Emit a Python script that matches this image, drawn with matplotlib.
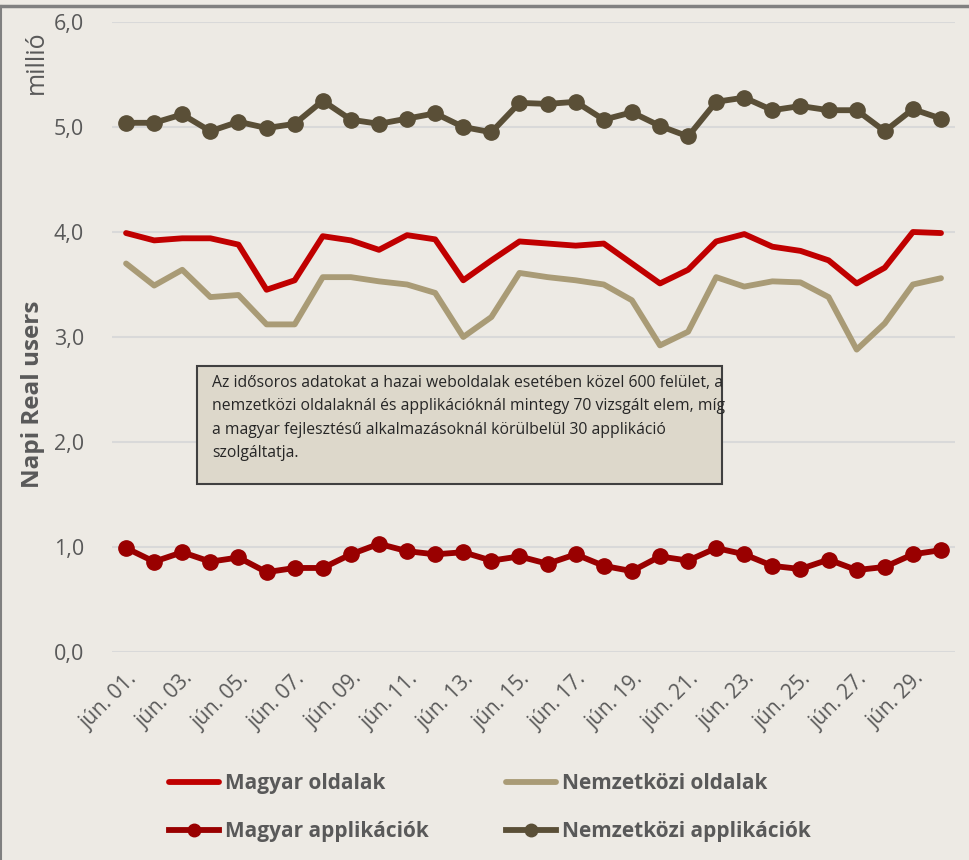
import matplotlib.pyplot as plt
from matplotlib.lines import Line2D
from matplotlib.patches import FancyBboxPatch

# jún. 01 - jún. 30, napi Real users (millió)
days = ["jún. %02d." % d for d in range(1, 31)]

magyar_oldalak = [3.99, 3.92, 3.94, 3.94, 3.88, 3.45, 3.54, 3.96, 3.92, 3.83,
                  3.97, 3.93, 3.54, 3.73, 3.91, 3.89, 3.87, 3.89, 3.70, 3.51,
                  3.64, 3.91, 3.98, 3.86, 3.82, 3.73, 3.51, 3.66, 4.00, 3.99]
nemzetkozi_oldalak = [3.70, 3.49, 3.64, 3.38, 3.40, 3.12, 3.12, 3.57, 3.57, 3.53,
                      3.50, 3.42, 3.00, 3.19, 3.61, 3.57, 3.54, 3.50, 3.35, 2.92,
                      3.05, 3.57, 3.48, 3.53, 3.52, 3.38, 2.88, 3.13, 3.50, 3.56]
magyar_app = [0.99, 0.86, 0.95, 0.86, 0.90, 0.76, 0.80, 0.80, 0.93, 1.03,
              0.96, 0.93, 0.95, 0.87, 0.91, 0.84, 0.93, 0.82, 0.77, 0.91,
              0.87, 0.99, 0.93, 0.82, 0.79, 0.88, 0.78, 0.81, 0.93, 0.97]
nemzetkozi_app = [5.04, 5.04, 5.12, 4.96, 5.05, 4.99, 5.03, 5.25, 5.07, 5.03,
                  5.08, 5.13, 5.00, 4.95, 5.23, 5.22, 5.24, 5.07, 5.14, 5.01,
                  4.91, 5.24, 5.28, 5.16, 5.20, 5.16, 5.16, 4.96, 5.17, 5.08]
y_ticks = [0, 1, 2, 3, 4, 5, 6]

note = ("Az idősoros adatokat a hazai weboldalak esetében közel 600 felület, a\n"
        "nemzetközi oldalaknál és applikációknál mintegy 70 vizsgált elem, míg\n"
        "a magyar fejlesztésű alkalmazásoknál körülbelül 30 applikáció\n"
        "szolgáltatja.")

bg = "#EDEAE4"
txt = "#595959"
plt.rcParams["font.family"] = ["Open Sans", "DejaVu Sans"]

fig = plt.figure(figsize=(9.69, 8.6), dpi=100, facecolor=bg)
ax = fig.add_axes([0.1156, 0.2419, 0.87, 0.7325], facecolor=bg)

x = list(range(len(days)))
l1, = ax.plot(x, magyar_oldalak, color="#C00000", lw=4.2, solid_capstyle="round",
              label="Magyar oldalak", zorder=3)
l2, = ax.plot(x, nemzetkozi_oldalak, color="#A99B76", lw=4.2, solid_capstyle="round",
              label="Nemzetközi oldalak", zorder=3)
l3, = ax.plot(x, magyar_app, color="#990000", lw=4.2, marker="o", ms=11,
              label="Magyar applikációk", zorder=3)
l4, = ax.plot(x, nemzetkozi_app, color="#5A4F37", lw=4.2, marker="o", ms=11,
              label="Nemzetközi applikációk", zorder=3)

ax.set_xlim(-0.5, len(days) - 0.5)
ax.set_ylim(0, 6)
ax.set_yticks(y_ticks)
ax.set_yticklabels([("%.1f" % v).replace(".", ",") for v in y_ticks])
ax.set_xticks(x[::2])
ax.set_xticklabels(days[::2], rotation=45, ha="right", rotation_mode="anchor")
ax.tick_params(axis="both", length=0, colors=txt)
ax.tick_params(axis="y", pad=20, labelsize=15.5)
ax.tick_params(axis="x", pad=12, labelsize=15)
ax.grid(axis="y", color="#D9D9D9", lw=1.5, zorder=0)
for s in ax.spines.values():
    s.set_visible(False)

fig.text(0.034, 0.542, "Napi Real users", rotation=90, ha="center", va="center",
         fontsize=17.5, fontweight="bold", color=txt)
fig.text(0.038, 0.928, "millió", rotation=90, ha="center", va="center",
         fontsize=18, color=txt)

# annotation box
box = FancyBboxPatch((197 / 969, 1 - 484 / 860), 525 / 969, 118 / 860,
                     boxstyle="square,pad=0", transform=fig.transFigure,
                     facecolor="#DDD8CB", edgecolor="#404040", lw=1.5, zorder=5)
fig.patches.append(box)
fig.text(212 / 969, 1 - 375 / 860, note, ha="left", va="top", fontsize=11.3,
         color="#262626", linespacing=1.62, zorder=6)

leg = fig.legend([l1, l3, l2, l4], [l1.get_label(), l3.get_label(), l2.get_label(), l4.get_label()],
                 loc="upper left", bbox_to_anchor=(0.155, 0.123), ncol=2,
                 frameon=False, handlelength=2.4, handletextpad=0.3,
                 columnspacing=3.7, labelspacing=1.3,
                 prop={"weight": "bold", "size": 15})
for t in leg.get_texts():
    t.set_color(txt)
for h in leg.legend_handles:
    h.set_markersize(9)

# outer frame
fig.add_artist(Line2D([0, 1], [1 - 6 / 860, 1 - 6 / 860], transform=fig.transFigure,
                      color="#808080", lw=2.5))
fig.add_artist(Line2D([1 / 969, 1 / 969], [0, 1 - 6 / 860], transform=fig.transFigure,
                      color="#808080", lw=1.5))

fig.savefig("out.png", dpi=100, facecolor=bg)
